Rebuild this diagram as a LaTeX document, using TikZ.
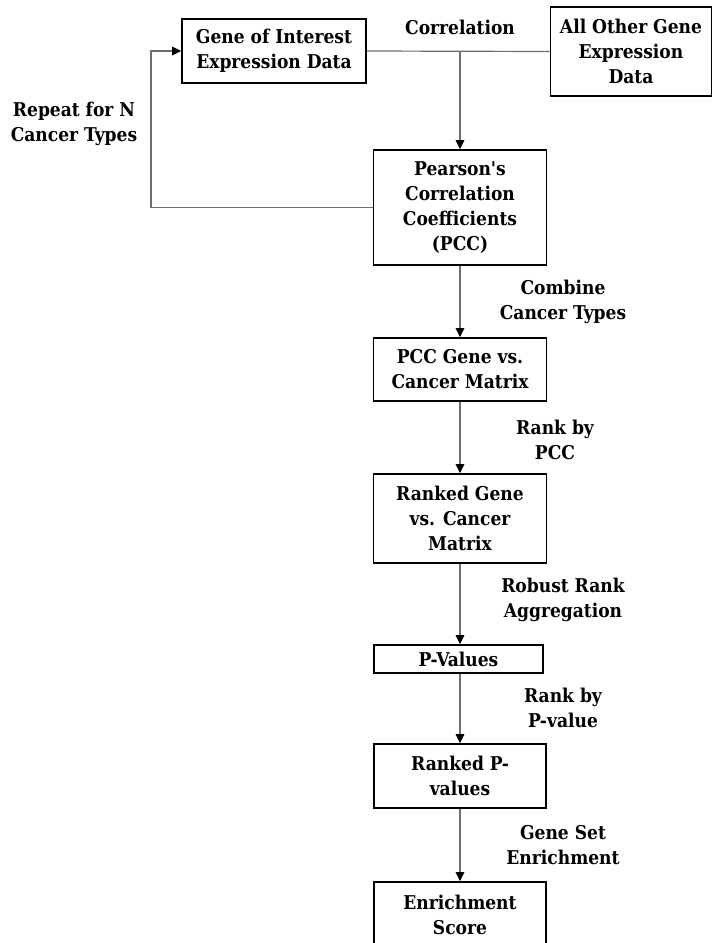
\documentclass[tikz,border=0pt]{standalone}
\usepackage{fontspec}
\setmainfont{DejaVu Serif Condensed}
\usetikzlibrary{arrows.meta}
\newcommand{\flowfont}{\fontsize{19}{25}\selectfont\bfseries}
\definecolor{linkgray}{HTML}{6E6E6E}
\begin{document}
\begin{tikzpicture}[x=1pt,y=-1pt,
  box/.style={draw=black,line width=1.6pt,align=center,inner sep=0pt,font=\flowfont},
  lbl/.style={align=center,inner sep=0pt,font=\flowfont},
  conn/.style={draw=linkgray,line width=1.2pt},
  arr/.style={conn,-{Triangle[length=9pt,width=8.5pt,color=black]}}]
  \useasboundingbox (0,0) rectangle (712,943);

  % input data
  \node[box,minimum width=184pt,minimum height=64pt] (goi) at (274,51)
    {Gene of Interest\\Expression Data};
  \node[box,minimum width=161pt,minimum height=89pt] (other) at (631,51.5)
    {All Other Gene\\Expression\\Data};
  \node[lbl] (corr) at (460,27) {Correlation};

  % main pipeline
  \node[box,minimum width=173pt,minimum height=115pt] (pcc) at (460,207.5)
    {Pearson\textquotesingle s\\Correlation\\Coefficients\\(PCC)};
  \node[box,minimum width=173pt,minimum height=63pt] (mat) at (460,369.5)
    {PCC Gene vs.\\Cancer Matrix};
  \node[box,minimum width=173pt,minimum height=89pt] (rmat) at (460,518.5)
    {Ranked Gene\\vs. Cancer\\Matrix};
  \node[box,minimum width=169pt,minimum height=28pt] (pv) at (458.5,659)
    {P-Values};
  \node[box,minimum width=172pt,minimum height=64pt] (rpv) at (460,776)
    {Ranked P-\\values};
  \node[box,minimum width=172pt,minimum height=65pt] (es) at (460,914.5)
    {Enrichment\\Score};

  % step labels
  \node[lbl] (rep) at (74,124) {Repeat for N\\Cancer Types};
  \node[lbl] (comb) at (563,302) {Combine\\Cancer Types};
  \node[lbl] (rpcc) at (555,440) {Rank by\\PCC};
  \node[lbl] (rra) at (563,600) {Robust Rank\\Aggregation};
  \node[lbl] (rpval) at (563,708) {Rank by\\P-value};
  \node[lbl] (gse) at (563,845) {Gene Set\\Enrichment};

  % connectors
  \coordinate (j) at (460,51.5);
  \coordinate (loop) at (151,207.5);
  \draw[conn] (goi.east) -- (other.west);
  \draw[arr] (j) -- (pcc.north);
  \draw[arr] (pcc.west) -- (loop) |- (goi.west);
  \draw[arr] (pcc.south) -- (mat.north);
  \draw[arr] (mat.south) -- (rmat.north);
  \draw[arr] (rmat.south) -- (rmat.south |- pv.north);
  \draw[arr] (rmat.south |- pv.south) -- (rpv.north);
  \draw[arr] (rpv.south) -- (es.north);
\end{tikzpicture}
\end{document}
